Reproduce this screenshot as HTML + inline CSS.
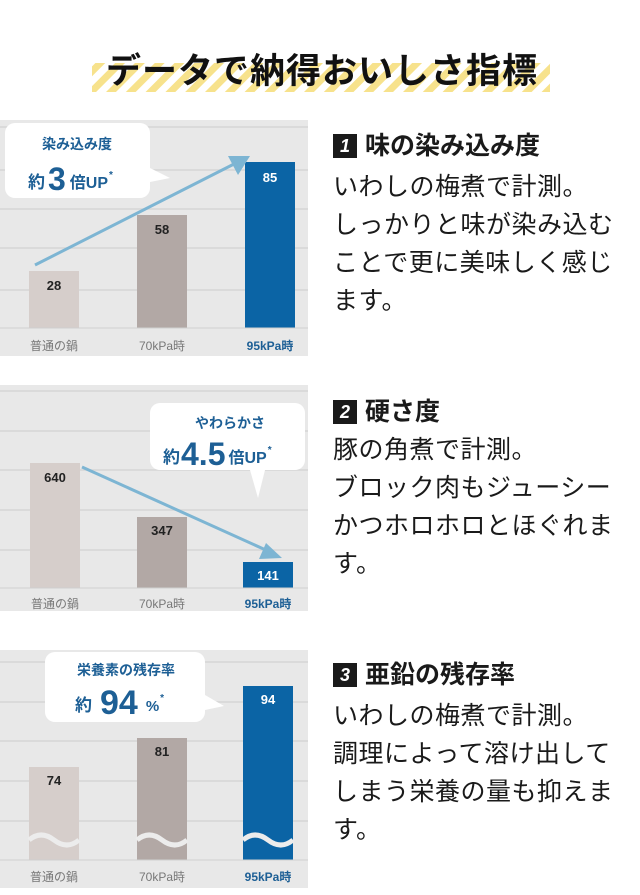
<!DOCTYPE html>
<html><head><meta charset="utf-8"><style>
body{margin:0;width:640px;height:895px;background:#fff;position:relative;overflow:hidden;font-family:"Liberation Sans","Noto Sans CJK JP",sans-serif;}
.t{position:absolute;white-space:nowrap;color:#1a1a1a;}
.h{font-size:25px;font-weight:bold;}
.h b{display:inline-block;background:#1a1a1a;color:#fff;width:24px;height:24px;line-height:24px;text-align:center;font-size:18px;margin-right:8px;vertical-align:2px;font-style:italic;}
.p{font-size:25px;line-height:38px;letter-spacing:0.5px;}
svg{position:absolute;left:0;top:0;}
</style></head><body>
<svg width="640" height="895">
<defs>
<pattern id="st" width="14" height="14" patternUnits="userSpaceOnUse" patternTransform="rotate(45)">
<rect width="7" height="14" fill="#f7e28c"/></pattern>
</defs>
<rect x="92" y="63" width="458" height="29" fill="url(#st)"/>
<g font-family="Liberation Sans,Noto Sans CJK JP,sans-serif">
<!-- panel 1 -->
<rect x="0" y="120" width="308" height="236" fill="#e8e8e8"/>
<g stroke="#d6d6d6" stroke-width="1.5"><line x1="0" y1="127" x2="308" y2="127"/><line x1="0" y1="170" x2="308" y2="170"/><line x1="0" y1="209" x2="308" y2="209"/><line x1="0" y1="248" x2="308" y2="248"/><line x1="0" y1="290" x2="308" y2="290"/></g>
<rect x="29" y="271" width="50" height="57" fill="#d6cecb"/>
<rect x="137" y="215" width="50" height="113" fill="#b2a8a5"/>
<rect x="245" y="162" width="50" height="166" fill="#0b64a5"/>
<line x1="0" y1="328" x2="308" y2="328" stroke="#cfcfcf"/>
<g font-size="13" font-weight="bold" text-anchor="middle"><text x="54" y="290" fill="#222">28</text><text x="162" y="234" fill="#222">58</text><text x="270" y="182" fill="#fff">85</text></g>
<line x1="35" y1="265" x2="236" y2="163" stroke="#7db5d3" stroke-width="3"/>
<polygon points="250,156 228,156 238,175" fill="#7db5d3"/>
<path d="M15,123 H140 a10,10 0 0 1 10,10 V168 L170,178 L150,182 V188 a10,10 0 0 1 -10,10 H15 a10,10 0 0 1 -10,-10 V133 a10,10 0 0 1 10,-10Z" fill="#fff"/>
<text x="77" y="149" font-size="14" font-weight="bold" fill="#1d5f95" text-anchor="middle">染み込み度</text>
<text x="28" y="188" font-weight="bold" fill="#1d5f95"><tspan font-size="17">約</tspan><tspan font-size="32" dx="3" dy="2">3</tspan><tspan font-size="16" dx="4" dy="-2">倍UP</tspan><tspan font-size="10" dx="1" dy="-10">*</tspan></text>
<g font-size="12" text-anchor="middle"><text x="54" y="350" fill="#777">普通の鍋</text><text x="162" y="350" fill="#777">70kPa時</text><text x="270" y="350" fill="#1d5f95" font-weight="bold">95kPa時</text></g>
<!-- panel 2 -->
<rect x="0" y="385" width="308" height="226" fill="#e8e8e8"/>
<g stroke="#d6d6d6" stroke-width="1.5"><line x1="0" y1="391" x2="308" y2="391"/><line x1="0" y1="431" x2="308" y2="431"/><line x1="0" y1="470" x2="308" y2="470"/><line x1="0" y1="510" x2="308" y2="510"/><line x1="0" y1="550" x2="308" y2="550"/></g>
<rect x="30" y="463" width="50" height="125" fill="#d6cecb"/>
<rect x="137" y="517" width="50" height="71" fill="#b2a8a5"/>
<rect x="243" y="562" width="50" height="26" fill="#0b64a5"/>
<line x1="0" y1="588" x2="308" y2="588" stroke="#cfcfcf"/>
<g font-size="13" font-weight="bold" text-anchor="middle"><text x="55" y="482" fill="#222">640</text><text x="162" y="535" fill="#222">347</text><text x="268" y="580" fill="#fff">141</text></g>
<line x1="82" y1="467" x2="268" y2="551" stroke="#7db5d3" stroke-width="3"/>
<polygon points="282,558 266,543 259,559" fill="#7db5d3"/>
<path d="M160,403 H295 a10,10 0 0 1 10,10 V460 a10,10 0 0 1 -10,10 H265 L258,498 L250,470 H160 a10,10 0 0 1 -10,-10 V413 a10,10 0 0 1 10,-10Z" fill="#fff"/>
<text x="230" y="428" font-size="14" font-weight="bold" fill="#1d5f95" text-anchor="middle">やわらかさ</text>
<text x="163" y="463" font-weight="bold" fill="#1d5f95"><tspan font-size="17">約</tspan><tspan font-size="32" dx="1" dy="2">4.5</tspan><tspan font-size="16" dx="3" dy="-2">倍UP</tspan><tspan font-size="10" dx="1" dy="-10">*</tspan></text>
<g font-size="12" text-anchor="middle"><text x="55" y="608" fill="#777">普通の鍋</text><text x="162" y="608" fill="#777">70kPa時</text><text x="268" y="608" fill="#1d5f95" font-weight="bold">95kPa時</text></g>
<!-- panel 3 -->
<rect x="0" y="650" width="308" height="238" fill="#e8e8e8"/>
<g stroke="#d6d6d6" stroke-width="1.5"><line x1="0" y1="662" x2="308" y2="662"/><line x1="0" y1="702" x2="308" y2="702"/><line x1="0" y1="741" x2="308" y2="741"/><line x1="0" y1="781" x2="308" y2="781"/><line x1="0" y1="821" x2="308" y2="821"/></g>
<rect x="29" y="767" width="50" height="93" fill="#d6cecb"/>
<rect x="137" y="738" width="50" height="122" fill="#b2a8a5"/>
<rect x="243" y="686" width="50" height="174" fill="#0b64a5"/>
<g fill="none" stroke="#ececec" stroke-width="5">
<path d="M29,840 q12,-10 25,0 t25,0"/><path d="M137,840 q12,-10 25,0 t25,0"/><path d="M243,840 q12,-10 25,0 t25,0"/></g>
<line x1="0" y1="860" x2="308" y2="860" stroke="#cfcfcf"/>
<g font-size="13" font-weight="bold" text-anchor="middle"><text x="54" y="785" fill="#222">74</text><text x="162" y="756" fill="#222">81</text><text x="268" y="704" fill="#fff">94</text></g>
<path d="M55,652 H195 a10,10 0 0 1 10,10 V695 L224,706 L205,710 V712 a10,10 0 0 1 -10,10 H55 a10,10 0 0 1 -10,-10 V662 a10,10 0 0 1 10,-10Z" fill="#fff"/>
<text x="126" y="675" font-size="14" font-weight="bold" fill="#1d5f95" text-anchor="middle">栄養素の残存率</text>
<text x="75" y="711" font-weight="bold" fill="#1d5f95"><tspan font-size="17">約</tspan><tspan font-size="34" dx="8" dy="3">94</tspan><tspan font-size="15" dx="8" dy="-3">%</tspan><tspan font-size="10" dx="1" dy="-10">*</tspan></text>
<g font-size="12" text-anchor="middle"><text x="54" y="881" fill="#777">普通の鍋</text><text x="162" y="881" fill="#777">70kPa時</text><text x="268" y="881" fill="#1d5f95" font-weight="bold">95kPa時</text></g>
</g>
</svg>
<div class="t" style="left:106px;top:43px;font-size:35px;font-weight:bold;color:#111;letter-spacing:1px;">データで納得おいしさ指標</div>
<div class="t h" style="left:333px;top:126px;"><b>1</b>味の染み込み度</div>
<div class="t p" style="left:333px;top:168px;">いわしの梅煮で計測。<br>しっかりと味が染み込む<br>ことで更に美味しく感じ<br>ます。</div>
<div class="t h" style="left:333px;top:392px;"><b>2</b>硬さ度</div>
<div class="t p" style="left:333px;top:431px;">豚の角煮で計測。<br>ブロック肉もジューシー<br>かつホロホロとほぐれま<br>す。</div>
<div class="t h" style="left:333px;top:655px;"><b>3</b>亜鉛の残存率</div>
<div class="t p" style="left:333px;top:697px;">いわしの梅煮で計測。<br>調理によって溶け出して<br>しまう栄養の量も抑えま<br>す。</div>
</body></html>
